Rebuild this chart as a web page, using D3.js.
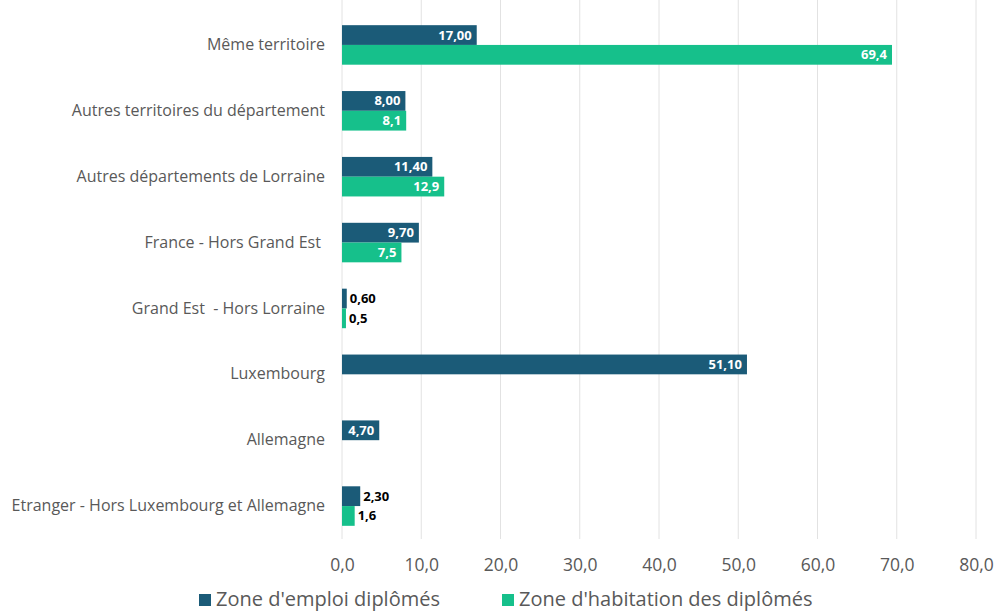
<!DOCTYPE html>
<html><head><meta charset="utf-8">
<script src="https://cdn.jsdelivr.net/npm/d3@7"></script>
<style>body{margin:0;background:#fff}svg{display:block}text{font-family:"Open Sans","Liberation Sans",sans-serif}</style>
</head><body><svg id="c" width="998" height="614"></svg>
<script>
const categories = ["Même territoire","Autres territoires du département","Autres départements de Lorraine","France - Hors Grand Est ","Grand Est  - Hors Lorraine","Luxembourg","Allemagne","Etranger - Hors Luxembourg et Allemagne"];
const emploi = [17.00, 8.00, 11.40, 9.70, 0.60, 51.10, 4.70, 2.30];
const habitation = [69.4, 8.1, 12.9, 7.5, 0.5, null, null, 1.6];
const seriesNames = ["Zone d'emploi diplômés", "Zone d'habitation des diplômés"];
const ticks = [0,10,20,30,40,50,60,70,80];

const colors = ["#1b5b78", "#16c08b"];
const svg = d3.select("#c");
const x = d3.scaleLinear().domain([0,80]).range([342,976]);
const y = d3.scaleBand().domain(categories).range([12,539]).paddingInner(0.4).paddingOuter(0.2);
const y1 = d3.scaleBand().domain([0,1]).range([0,y.bandwidth()]);

// gridlines
svg.append("g").selectAll("line").data(ticks).join("line")
  .attr("x1",d=>x(d)).attr("x2",d=>x(d)).attr("y1",0).attr("y2",539)
  .attr("stroke","#e2e2e2").attr("stroke-width",1);

// x axis labels
const xAxis = d3.axisBottom(x).tickValues(ticks).tickSize(0).tickPadding(0)
  .tickFormat(d=>d3.format(".1f")(d).replace(".",","));
const gx = svg.append("g").call(xAxis);
gx.select(".domain").remove();
gx.selectAll("text").attr("y",571).attr("dy",0).attr("font-size",17.5).attr("fill","#595959").attr("font-family","'Open Sans',sans-serif");

// category labels
const yAxis = d3.axisLeft(y).tickSize(0).tickPadding(0);
const gy = svg.append("g").attr("transform","translate(325,0)").call(yAxis);
gy.select(".domain").remove();
gy.selectAll("text").attr("font-size",16).attr("fill","#595959").attr("font-family","'Open Sans',sans-serif").style("white-space","pre");

const series = [emploi, habitation];
const fmt = [v=>d3.format(".2f")(v).replace(".",","), v=>d3.format(".1f")(v).replace(".",",")];
series.forEach((vals,si)=>{
  const g = svg.append("g");
  const data = categories.map((c,i)=>({c, v: vals[i]})).filter(d=>d.v!=null);
  g.selectAll("rect").data(data).join("rect")
    .attr("x",x(0)).attr("y",d=>y(d.c)+y1(si))
    .attr("width",d=>x(d.v)-x(0)).attr("height",y1.bandwidth())
    .attr("fill",colors[si]);
  g.selectAll("text").data(data).join("text")
    .attr("x",d=> d.v>=4 ? x(d.v)-5 : x(d.v)+3)
    .attr("y",d=>y(d.c)+y1(si)+y1.bandwidth()/2)
    .attr("dy","0.35em")
    .attr("text-anchor",d=> d.v>=4 ? "end":"start")
    .attr("font-size",13).attr("font-weight","bold")
    .attr("fill",d=> d.v>=4 ? "#ffffff":"#000000")
    .text(d=>fmt[si](d.v));
});

// legend
const legX = [199, 502];
seriesNames.forEach((n,i)=>{
  svg.append("rect").attr("x",legX[i]).attr("y",594).attr("width",12).attr("height",12).attr("fill",colors[i]);
  svg.append("text").attr("x",legX[i]+17).attr("y",599).attr("dy","0.35em")
    .attr("font-size",20).attr("fill","#595959").text(n);
});
</script></body></html>
